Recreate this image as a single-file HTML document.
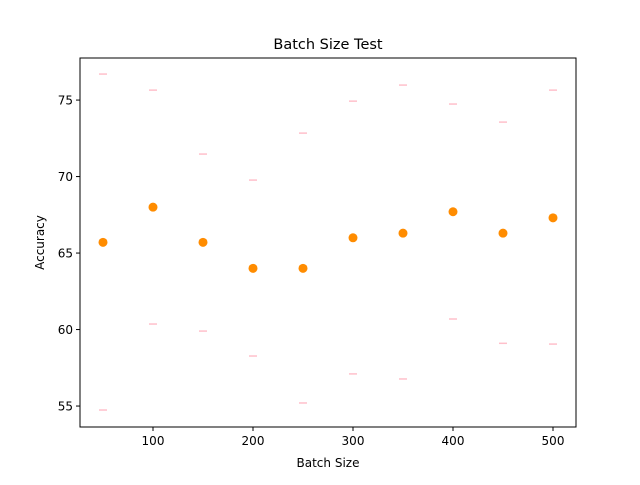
<!DOCTYPE html>
<html><head><meta charset="utf-8"><style>
body{margin:0;background:#fff;font-family:"Liberation Sans","DejaVu Sans",sans-serif;}
svg text{font-family:"DejaVu Sans","Liberation Sans",sans-serif;}
</style></head><body>
<svg id="chart" width="640" height="480" xmlns="http://www.w3.org/2000/svg">
<rect width="640" height="480" fill="#fff"/>
<g id="plot"></g>
</svg>
<script>
const batchSizes=[50,100,150,200,250,300,350,400,450,500];
const meanAcc=[65.7,68.0,65.7,64.0,64.0,66.0,66.3,67.7,66.3,67.3];
const maxAcc=[76.7,75.65,71.47,69.77,72.84,74.93,75.98,74.74,73.56,75.65];
const minAcc=[54.74,60.36,59.9,58.27,55.2,57.1,56.77,60.69,59.1,59.05];
const xTicks=[100,200,300,400,500];
const yTicks=[55,60,65,70,75];
const L=80,R=576,T=58,B=427;
const xMin=27,xMax=523,yMin=53.63,yMax=77.75;
const X=v=>L+(v-xMin)/(xMax-xMin)*(R-L);
const Y=v=>B-(v-yMin)/(yMax-yMin)*(B-T);
const NS="http://www.w3.org/2000/svg";
const g=document.getElementById('plot');
function mk(tag,at,txt){const e=document.createElementNS(NS,tag);for(const k in at)e.setAttribute(k,at[k]);if(txt!=null)e.textContent=txt;g.appendChild(e);return e;}
batchSizes.forEach((b,i)=>{
 let e=mk('line',{x1:X(b)-4,x2:X(b)+4,y1:Y(maxAcc[i]),y2:Y(maxAcc[i]),stroke:'pink','stroke-width':1.5});
 
 
 e=mk('line',{x1:X(b)-4,x2:X(b)+4,y1:Y(minAcc[i]),y2:Y(minAcc[i]),stroke:'pink','stroke-width':1.5});
 
 
 e=mk('circle',{cx:X(b),cy:Y(meanAcc[i]),r:4.5,fill:'darkorange'});
 
 
});
let fr=mk('rect',{x:L,y:T,width:R-L,height:B-T,fill:'none',stroke:'#000','stroke-width':1});


xTicks.forEach(t=>{
 mk('line',{x1:X(t),x2:X(t),y1:B,y2:B+4,stroke:'#000'});
 let e=mk('text',{x:X(t),y:B+18,'text-anchor':'middle','font-size':12},t);
 
 
});
yTicks.forEach(t=>{
 mk('line',{x1:L-4,x2:L,y1:Y(t),y2:Y(t),stroke:'#000'});
 let e=mk('text',{x:L-7,y:Y(t)+4.5,'text-anchor':'end','font-size':12},t);
 
 
});
let t1=mk('text',{x:(L+R)/2,y:49,'text-anchor':'middle','font-size':14.5},'Batch Size Test');


let t2=mk('text',{x:(L+R)/2,y:467,'text-anchor':'middle','font-size':12},'Batch Size');


let t3=mk('text',{x:44,y:(T+B)/2,'text-anchor':'middle','font-size':12,transform:`rotate(-90 44 ${(T+B)/2})`},'Accuracy');


</script>
</body></html>
